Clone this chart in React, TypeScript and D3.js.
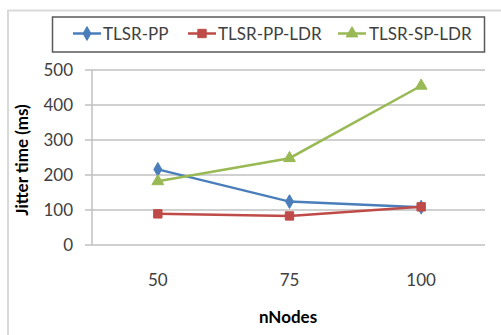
import React from "react";
import * as d3 from "d3";

const categories = ["50", "75", "100"];
const yTicks = [0, 100, 200, 300, 400, 500];
const seriesNames = ["TLSR-PP", "TLSR-PP-LDR", "TLSR-SP-LDR"];
const tlsrPP = [216, 124, 108];
const tlsrPPLDR = [89, 83, 109];
const tlsrSPLDR = [182, 248, 455];
const seriesColors = ["#4a7ebb", "#be4b48", "#98b954"];
const seriesShapes = ["diamond", "square", "triangle"];

const W = 501;
const H = 335;
const plot = { left: 92, right: 487, top: 70, bottom: 245 };
const font = "Lato, 'Open Sans', sans-serif";
const textColor = "#404040";

function Marker({ shape, x, y, color }: { shape: string; x: number; y: number; color: string }) {
  const sym =
    shape === "diamond" ? d3.symbolDiamond : shape === "square" ? d3.symbolSquare : d3.symbolTriangle;
  const size = shape === "diamond" ? 55 : shape === "square" ? 70 : 60;
  const path = d3.symbol().type(sym).size(size)() as string;
  return <path d={path} transform={`translate(${x},${y})`} fill={color} stroke={color} strokeWidth={1} />;
}

export default function App() {
  const x = d3.scaleBand().domain(categories).range([plot.left, plot.right]);
  const y = d3.scaleLinear().domain([0, 500]).range([plot.bottom, plot.top]);
  const data = [tlsrPP, tlsrPPLDR, tlsrSPLDR];
  const line = d3
    .line<number>()
    .x((_, i) => (x(categories[i]) as number) + x.bandwidth() / 2)
    .y((d) => y(d));

  const legendItems = [
    { lx: 73, tx: 103 },
    { lx: 188, tx: 218 },
    { lx: 338, tx: 369 },
  ];

  return (
    <svg
      width={W}
      height={H}
      style={{ position: "absolute", left: 0, top: 0, background: "#fff" }}
      fontFamily={font}
    >
      <rect x={0} y={0} width={W} height={H} fill="#fff" />
      {/* chart area frame */}
      <path d={`M8,${H} V10.5 H${W}`} fill="none" stroke="#d9d9d9" strokeWidth={2} />

      {/* legend */}
      <rect x={52.5} y={17} width={432} height={35} fill="#fff" stroke="#595959" strokeWidth={1.5} />
      {seriesNames.map((name, i) => (
        <g key={name}>
          <line
            x1={legendItems[i].lx}
            x2={legendItems[i].lx + 28}
            y1={33.5}
            y2={33.5}
            stroke={seriesColors[i]}
            strokeWidth={2.5}
          />
          <Marker shape={seriesShapes[i]} x={legendItems[i].lx + 14} y={33.5} color={seriesColors[i]} />
          <text x={legendItems[i].tx} y={39.5} fontSize={17} fill={textColor}>
            {name}
          </text>
        </g>
      ))}

      {/* gridlines and y ticks */}
      {yTicks.map((t) => (
        <g key={t}>
          <line x1={85} x2={plot.right - 2} y1={y(t)} y2={y(t)} stroke="#c0c0c0" strokeWidth={1.5} />
          <text x={73} y={y(t) + 6} fontSize={17} textAnchor="end" fill={textColor}>
            {t}
          </text>
        </g>
      ))}
      <line x1={plot.left} x2={plot.left} y1={plot.top} y2={plot.bottom} stroke="#c0c0c0" strokeWidth={1.5} />

      {/* x labels */}
      {categories.map((c) => (
        <text
          key={c}
          x={(x(c) as number) + x.bandwidth() / 2}
          y={286}
          fontSize={17}
          textAnchor="middle"
          fill={textColor}
        >
          {c}
        </text>
      ))}

      {/* series */}
      {data.map((vals, si) => (
        <g key={si}>
          <path d={line(vals) as string} fill="none" stroke={seriesColors[si]} strokeWidth={2.5} />
          {vals.map((v, i) => (
            <Marker
              key={i}
              shape={seriesShapes[si]}
              x={(x(categories[i]) as number) + x.bandwidth() / 2}
              y={y(v)}
              color={seriesColors[si]}
            />
          ))}
        </g>
      ))}

      {/* axis titles */}
      <text x={288} y={323} fontSize={17} fontWeight="bold" textAnchor="middle" fill="#000">
        nNodes
      </text>
      <text
        transform={`translate(28,160) rotate(-90)`}
        fontSize={17}
        fontWeight="bold"
        textAnchor="middle"
        fill="#000"
      >
        Jitter time (ms)
      </text>
    </svg>
  );
}
